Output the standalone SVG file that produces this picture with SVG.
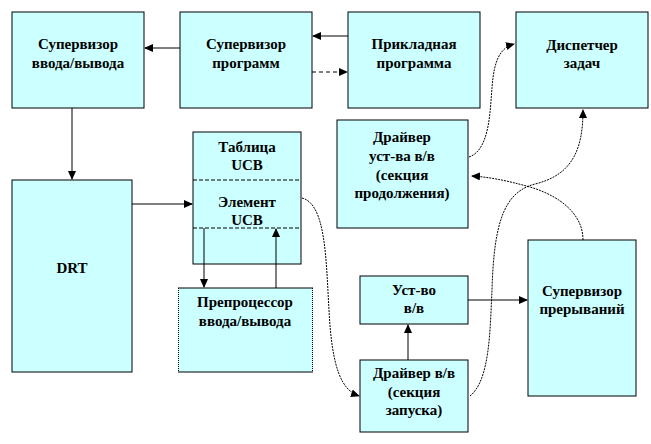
<svg xmlns="http://www.w3.org/2000/svg" width="651" height="444" viewBox="0 0 651 444">
<style>
.box{fill:#CCFFFF;stroke:#000;stroke-width:1}
.t{font-family:'Times New Roman','DejaVu Serif',serif;font-weight:bold;font-size:15px;text-anchor:middle;fill:#000}
.ln{fill:none;stroke:#000;stroke-width:1}
.dash{fill:none;stroke:#000;stroke-width:1;stroke-dasharray:4,3}
.cv{fill:none;stroke:#000;stroke-width:1;stroke-dasharray:2,1}
.sep{stroke:#000;stroke-width:1;stroke-dasharray:4,2}
</style>
<defs>
<marker id="ah" markerWidth="9" markerHeight="8" refX="8" refY="4" orient="auto" markerUnits="userSpaceOnUse">
<path d="M0,0 L9,4 L0,8 z" fill="#000"/>
</marker>
</defs>
<rect width="651" height="444" fill="#fff"/>
<g id="sup_io"><rect class="box" x="12" y="12" width="132" height="96"/><text class="t" x="78" y="49">Супервизор</text><text class="t" x="78" y="68">ввода/вывода</text></g>
<g id="sup_prog"><rect class="box" x="180" y="12" width="132" height="96"/><text class="t" x="246" y="49">Супервизор</text><text class="t" x="246" y="68">программ</text></g>
<g id="app"><rect class="box" x="348" y="12" width="132" height="96"/><text class="t" x="414" y="49">Прикладная</text><text class="t" x="414" y="68">программа</text></g>
<g id="disp"><rect class="box" x="516" y="12" width="132" height="96"/><text class="t" x="582" y="50">Диспетчер</text><text class="t" x="582" y="68">задач</text></g>
<g id="drv_cont"><rect class="box" x="337" y="120" width="131" height="108"/><text class="t" x="402" y="142">Драйвер</text><text class="t" x="402" y="161">уст-ва в/в</text><text class="t" x="402" y="180">(секция</text><text class="t" x="402" y="198">продолжения)</text></g>
<g id="ucb"><rect class="box" x="193" y="132" width="108" height="132"/><line class="sep" x1="193" y1="180" x2="301" y2="180"/><line class="sep" x1="193" y1="228" x2="301" y2="228"/><text class="t" x="247" y="152">Таблица</text><text class="t" x="247" y="170">UCB</text><text class="t" x="247" y="207">Элемент</text><text class="t" x="247" y="225">UCB</text></g>
<g id="drt"><rect class="box" x="12" y="180" width="120" height="192"/><text class="t" x="72" y="273">DRT</text></g>
<g id="preproc"><rect x="178" y="288" width="135" height="84" fill="#CCFFFF"/><line class="ln" x1="178" y1="288" x2="313" y2="288"/><line class="ln" x1="178" y1="372" x2="313" y2="372"/><line x1="178.5" y1="288" x2="178.5" y2="372" stroke="#000" stroke-dasharray="1,1"/><line x1="312.5" y1="288" x2="312.5" y2="372" stroke="#000" stroke-dasharray="1,1"/><text class="t" x="245" y="307">Препроцессор</text><text class="t" x="245" y="326">ввода/вывода</text></g>
<g id="dev"><rect class="box" x="360" y="276" width="108" height="48"/><text class="t" x="414" y="295">Уст-во</text><text class="t" x="414" y="313">в/в</text></g>
<g id="drv_start"><rect class="box" x="360" y="360" width="108" height="72"/><text class="t" x="414" y="378">Драйвер в/в</text><text class="t" x="414" y="397">(секция</text><text class="t" x="414" y="415">запуска)</text></g>
<g id="sup_int"><rect class="box" x="528" y="240" width="108" height="156"/><text class="t" x="582" y="296">Супервизор</text><text class="t" x="582" y="314">прерываний</text></g>
<g id="connectors">
<line class="ln" x1="180" y1="48" x2="145" y2="48" marker-end="url(#ah)"/>
<line class="ln" x1="348" y1="36" x2="313" y2="36" marker-end="url(#ah)"/>
<line class="dash" x1="312" y1="72" x2="347" y2="72" marker-end="url(#ah)"/>
<line class="ln" x1="72" y1="108" x2="72" y2="179" marker-end="url(#ah)"/>
<line class="ln" x1="132" y1="204" x2="192" y2="204" marker-end="url(#ah)"/>
<line class="ln" x1="204" y1="228" x2="204" y2="287" marker-end="url(#ah)"/>
<line class="ln" x1="276" y1="288" x2="276" y2="229" marker-end="url(#ah)"/>
<line class="ln" x1="468" y1="300" x2="527" y2="300" marker-end="url(#ah)"/>
<line class="ln" x1="408" y1="360" x2="408" y2="325" marker-end="url(#ah)"/>
<path class="cv" d="M302,198 C326,204 326,260 329,310 C332,370 342,390 359,396" marker-end="url(#ah)"/>
<path class="cv" d="M469,157 C490,150 490,110 492,88 C494,60 500,48 514,44" marker-end="url(#ah)"/>
<path class="cv" d="M470,396 C490,380 490,330 492,290 C494,220 505,192 535,184 C572,175 583,150 583,110" marker-end="url(#ah)"/>
<path class="cv" d="M583,240 C583,214 560,196 530,187 C505,180 488,177 472,176" marker-end="url(#ah)"/>
</g>
</svg>
